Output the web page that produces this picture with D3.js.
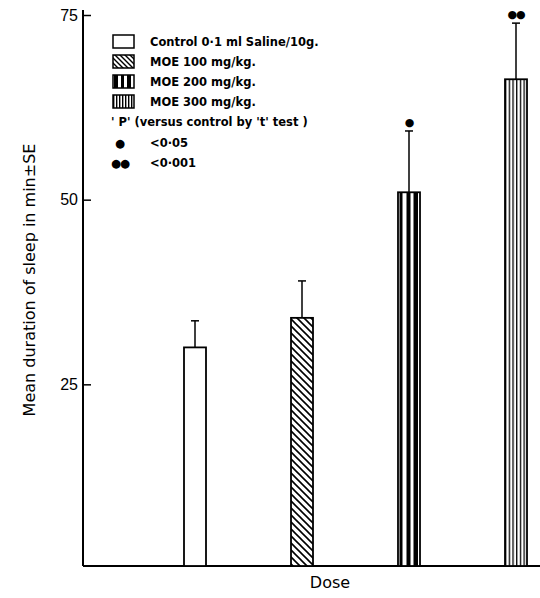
<!DOCTYPE html>
<html>
<head>
<meta charset="utf-8">
<script src="https://cdn.jsdelivr.net/npm/d3@7"></script>
<style>
  body { margin: 0; background: #fff; }
  svg { font-family: "DejaVu Sans", sans-serif; }
</style>
</head>
<body>
<svg id="chart" width="540" height="598"></svg>
<script>
const groups = ['control', 'moe100', 'moe200', 'moe300'];
const means = [30, 34, 51, 66.3];
const errors = [3.6, 5, 8.3, 7.6];
const stars = ['', '', '\u25CF', '\u25CF\u25CF'];
const yTicks = [25, 50, 75];
const legendLabels = [
  'Control 0\u00B71 ml Saline/10g.',
  'MOE 100 mg/kg.',
  'MOE 200 mg/kg.',
  'MOE 300 mg/kg.'
];
const noteLabels = ["' P' (versus control by 't' test )", '<0\u00B705', '<0\u00B7001'];

const svg = d3.select('#chart');

const y = d3.scaleLinear().domain([0, 75]).range([569, 15]);
const x = d3.scalePoint().domain(groups).range([195, 516]);
const barW = 22;

// Patterns
const defs = svg.append('defs');
const hatch = defs.append('pattern')
  .attr('id', 'p-moe100').attr('patternUnits', 'userSpaceOnUse')
  .attr('width', 7).attr('height', 7);
hatch.append('rect').attr('width', 7).attr('height', 7).attr('fill', '#fff');
hatch.append('path').attr('d', 'M-1,-1 L8,8 M-1,6 L1,8 M6,-1 L8,1')
  .attr('stroke', '#000').attr('stroke-width', 1.6);

const thick = defs.append('pattern')
  .attr('id', 'p-moe200').attr('patternUnits', 'userSpaceOnUse')
  .attr('x', x('moe200') - barW / 2).attr('width', barW).attr('height', 10);
thick.append('rect').attr('width', barW).attr('height', 10).attr('fill', '#fff');
[[1.5, 3], [8.5, 4], [15.5, 4.5]].forEach(([sx, w]) => {
  thick.append('rect').attr('x', sx).attr('width', w).attr('height', 10).attr('fill', '#000');
});

const thin = defs.append('pattern')
  .attr('id', 'p-moe300').attr('patternUnits', 'userSpaceOnUse')
  .attr('x', x('moe300') - barW / 2).attr('width', 3.7).attr('height', 10);
thin.append('rect').attr('width', 3.7).attr('height', 10).attr('fill', '#fff');
thin.append('rect').attr('x', 0).attr('width', 1.3).attr('height', 10).attr('fill', '#000');

const fills = ['#fff', 'url(#p-moe100)', 'url(#p-moe200)', 'url(#p-moe300)'];

// Axes
const yAxis = svg.append('g')
  .attr('transform', 'translate(83,0)')
  .call(d3.axisLeft(y).tickValues(yTicks).tickSize(-8).tickPadding(5));
yAxis.select('.domain').remove();
yAxis.append('line').attr('x1', 0).attr('x2', 0).attr('y1', 10).attr('y2', 566)
  .attr('stroke', '#000').attr('stroke-width', 2);
yAxis.selectAll('.tick line').attr('stroke-width', 1.5);
yAxis.selectAll('.tick text').attr('font-size', 16).attr('fill', '#000');

svg.append('line')
  .attr('x1', 83).attr('x2', 540).attr('y1', 566).attr('y2', 566)
  .attr('stroke', '#000').attr('stroke-width', 2);

svg.append('text')
  .attr('transform', 'translate(35,280) rotate(-90)')
  .attr('text-anchor', 'middle').attr('font-size', 16)
  .text('Mean duration of sleep in min\u00B1SE');

svg.append('text')
  .attr('x', 330).attr('y', 588).attr('text-anchor', 'middle').attr('font-size', 16)
  .text('Dose');

// Error bars
const eb = svg.append('g').selectAll('g').data(groups).join('g');
eb.append('line')
  .attr('x1', d => x(d)).attr('x2', d => x(d))
  .attr('y1', (d, i) => y(means[i])).attr('y2', (d, i) => y(means[i] + errors[i]))
  .attr('stroke', '#000').attr('stroke-width', 1.5);
eb.append('line')
  .attr('x1', d => x(d) - 4).attr('x2', d => x(d) + 4)
  .attr('y1', (d, i) => y(means[i] + errors[i])).attr('y2', (d, i) => y(means[i] + errors[i]))
  .attr('stroke', '#000').attr('stroke-width', 1.5);
eb.append('text')
  .attr('x', d => x(d)).attr('y', (d, i) => y(means[i] + errors[i]) - 5)
  .attr('text-anchor', 'middle').attr('font-size', 11).attr('letter-spacing', -1)
  .text((d, i) => stars[i]);

// Bars
svg.append('g').selectAll('rect').data(groups).join('rect')
  .attr('x', d => x(d) - barW / 2).attr('width', barW)
  .attr('y', (d, i) => y(means[i])).attr('height', (d, i) => 566 - y(means[i]))
  .attr('fill', (d, i) => fills[i])
  .attr('stroke', '#000').attr('stroke-width', 1.8);

// Legend
const legend = svg.append('g').attr('font-size', 11.5).attr('font-weight', 'bold');
legendLabels.forEach((t, i) => {
  const ly = 42 + i * 20;
  legend.append('rect').attr('x', 113).attr('y', ly - 7).attr('width', 21).attr('height', 13)
    .attr('fill', fills[i] === '#fff' ? '#fff' : fills[i].replace('p-', 'l-'))
    .attr('stroke', '#000').attr('stroke-width', 1.5);
  legend.append('text').attr('x', 150).attr('y', ly + 4).text(t);
});

// legend patterns anchored to the legend boxes
const lh = defs.append('pattern').attr('id', 'l-moe100').attr('patternUnits', 'userSpaceOnUse')
  .attr('width', 5).attr('height', 5);
lh.append('rect').attr('width', 5).attr('height', 5).attr('fill', '#fff');
lh.append('path').attr('d', 'M-1,-1 L6,6 M-1,4 L1,6 M4,-1 L6,1').attr('stroke', '#000').attr('stroke-width', 1.4);
const l2 = defs.append('pattern').attr('id', 'l-moe200').attr('patternUnits', 'userSpaceOnUse')
  .attr('x', 113).attr('width', 21).attr('height', 10);
l2.append('rect').attr('width', 21).attr('height', 10).attr('fill', '#fff');
[[1, 4], [8, 3], [14, 4]].forEach(([sx, w]) => {
  l2.append('rect').attr('x', sx).attr('width', w).attr('height', 10).attr('fill', '#000');
});
const l3 = defs.append('pattern').attr('id', 'l-moe300').attr('patternUnits', 'userSpaceOnUse')
  .attr('x', 113).attr('width', 3).attr('height', 10);
l3.append('rect').attr('width', 3).attr('height', 10).attr('fill', '#fff');
l3.append('rect').attr('width', 1.4).attr('height', 10).attr('fill', '#000');

legend.append('text').attr('x', 111).attr('y', 126).text(noteLabels[0]);
legend.append('text').attr('x', 120).attr('y', 147).attr('text-anchor', 'middle').text('\u25CF');
legend.append('text').attr('x', 150).attr('y', 147).text(noteLabels[1]);
legend.append('text').attr('x', 120).attr('y', 167).attr('text-anchor', 'middle').attr('letter-spacing', -1).text('\u25CF\u25CF');
legend.append('text').attr('x', 150).attr('y', 167).text(noteLabels[2]);
</script>
</body>
</html>
